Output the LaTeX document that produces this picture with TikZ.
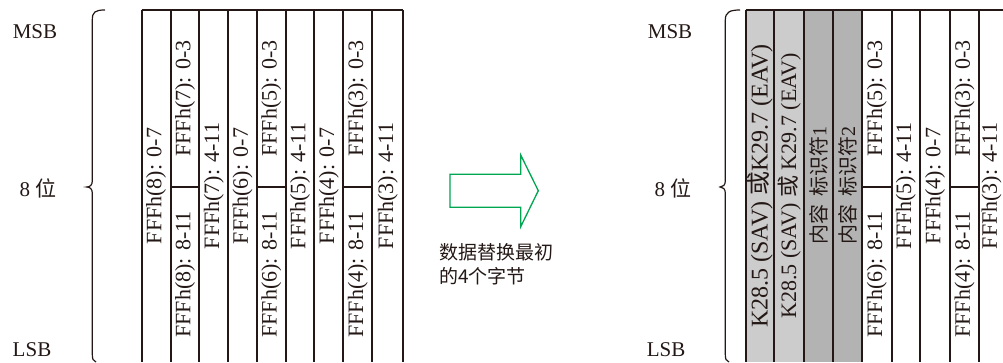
\documentclass[tikz,border=0pt]{standalone}
\usepackage{fontspec}
\setmainfont{Liberation Serif}
\newfontfamily\cjk{Noto Sans CJK SC}
\definecolor{ink}{HTML}{231815}
\definecolor{grayA}{HTML}{CCCCCC}
\definecolor{grayB}{HTML}{B3B3B3}
\definecolor{arrowgreen}{HTML}{00A651}
\tikzset{
  coltext/.style={rotate=90, inner sep=0pt, text=ink, font=\fontsize{22}{24}\selectfont},
  sidelabel/.style={inner sep=0pt, text=ink, font=\fontsize{21}{24}\selectfont},
  gridline/.style={draw=ink, line width=2.2pt},
  topline/.style={draw=ink, line width=1.3pt},
  bracepath/.style={draw=ink, line width=1.2pt},
  bigarrow/.style={draw=arrowgreen, line width=1.3pt, line join=miter},
}
\begin{document}
\begin{tikzpicture}[x=1pt,y=-1pt]
\useasboundingbox (0,0) rectangle (1003,362);

% ---------- left panel ----------
\node[sidelabel] (lmsb) at (35,32) {MSB};
\node[sidelabel] (lbit) at (38,188) {8 {\cjk 位}};
\node[sidelabel] (llsb) at (32,350) {LSB};
\draw[bracepath] (105,10) .. controls (95,10) and (92.3,12) .. (92.3,20) -- (92.3,181)
  .. controls (92.3,185) and (90,187) .. (86.7,187)
  .. controls (90,187) and (92.3,189) .. (92.3,193) -- (92.3,354)
  .. controls (92.3,359) and (93,361) .. (96,362);

\draw[topline] (141.7,10) -- (403.3,10);
\foreach \x in {141.7,170.7,199.3,228.3,257,285.7,314.3,343.3,372.3,403.3}
  \draw[gridline] (\x,10) -- (\x,362);
\draw[gridline] (170.7,187) -- (199.3,187);
\draw[gridline] (257,187) -- (285.7,187);
\draw[gridline] (343.3,187) -- (372.3,187);

\foreach \x/\t [count=\i] in {156.2/FFFh(8): 0-7, 213.8/FFFh(7): 4-11, 242.7/FFFh(6): 0-7,
    300/FFFh(5): 4-11, 328.8/FFFh(4): 0-7, 387.8/FFFh(3): 4-11}
  \node[coltext] (lf\i) at (\x,186) {\t};
\foreach \x/\t [count=\i] in {185.2/FFFh(7): 0-3, 271.3/FFFh(5): 0-3, 357.8/FFFh(3): 0-3}
  \node[coltext] (lt\i) at (\x,98.5) {\t};
\foreach \x/\t [count=\i] in {185.2/FFFh(8): 8-11, 271.3/FFFh(6): 8-11, 357.8/FFFh(4): 8-11}
  \node[coltext] (lb\i) at (\x,274.5) {\t};

% ---------- arrow and caption ----------
\draw[bigarrow] (450,174.3) -- (520.7,174.3) -- (520.7,155) -- (538.3,190.7)
  -- (520.7,226.7) -- (520.7,207.3) -- (450,207.3) -- cycle;
\node[anchor=north west, inner sep=0pt, align=left, text=ink,
  font=\cjk\fontsize{19}{24}\selectfont] (cap) at (439,243) {数据替换最初\\的4个字节};

% ---------- right panel ----------
\node[sidelabel] (rmsb) at (670,32) {MSB};
\node[sidelabel] (rbit) at (673,188) {8 {\cjk 位}};
\node[sidelabel] (rlsb) at (666,350) {LSB};
\draw[bracepath] (740,10) .. controls (730,10) and (725.3,12) .. (725.3,20) -- (725.3,181)
  .. controls (725.3,185) and (723,187) .. (720,187)
  .. controls (723,187) and (725.3,189) .. (725.3,193) -- (725.3,354)
  .. controls (725.3,359) and (726,361) .. (729,362);

\fill[grayA] (745.7,10) rectangle (804,362);
\fill[grayB] (804,10) rectangle (861.7,362);
\draw[topline] (745.7,10) -- (1003,10);
\foreach \x in {745.7,774.3,804,833.3,861.7,891.7,920,950,979}
  \draw[gridline] (\x,10) -- (\x,362);
\draw[gridline] (861.7,187) -- (891.7,187);
\draw[gridline] (950,187) -- (979,187);

\node[coltext, font=\fontsize{24}{26}\selectfont] (g1) at (760,186) {K28.5 (SAV) {\cjk 或}K29.7 (EAV)};
\node[coltext, font=\fontsize{22}{24}\selectfont] (g2) at (789.2,186) {K28.5 (SAV) {\cjk 或} K29.7 (EAV)};
\node[coltext, font=\fontsize{20}{24}\selectfont] (g3) at (818.7,185) {{\cjk 内容}\hspace{8pt}{\cjk 标识符}1};
\node[coltext, font=\fontsize{20}{24}\selectfont] (g4) at (847.5,185) {{\cjk 内容}\hspace{8pt}{\cjk 标识符}2};

\foreach \x/\t [count=\i] in {905.9/FFFh(5): 4-11, 935/FFFh(4): 0-7, 991.5/FFFh(3): 4-11}
  \node[coltext] (rf\i) at (\x,186) {\t};
\foreach \x/\t [count=\i] in {876.7/FFFh(5): 0-3, 964.5/FFFh(3): 0-3}
  \node[coltext] (rt\i) at (\x,98.5) {\t};
\foreach \x/\t [count=\i] in {876.7/FFFh(6): 8-11, 964.5/FFFh(4): 8-11}
  \node[coltext] (rb\i) at (\x,274.5) {\t};
\end{tikzpicture}
\end{document}
